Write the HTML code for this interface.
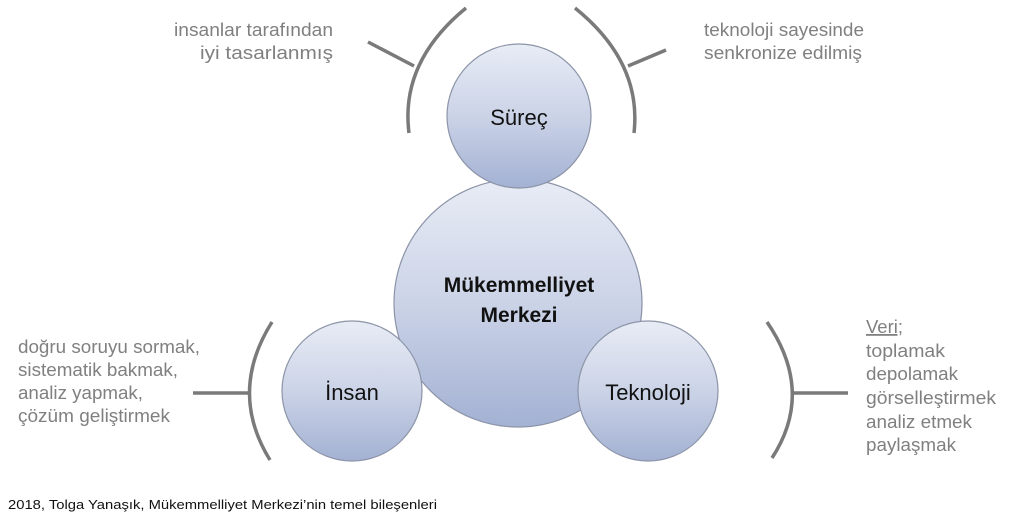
<!DOCTYPE html>
<html><head><meta charset="utf-8"><style>
body{margin:0;background:#fff;}
svg{display:block}
text{font-family:"Liberation Sans",sans-serif;}
</style></head><body>
<svg width="1024" height="514" viewBox="0 0 1024 514">
<defs>
<linearGradient id="g" x1="0" y1="0" x2="0" y2="1">
<stop offset="0" stop-color="#e8ecf5"/>
<stop offset="0.5" stop-color="#cbd3e7"/>
<stop offset="1" stop-color="#a3b1d3"/>
</linearGradient>
</defs>
<g fill="none" stroke="#7a7a7a" stroke-width="3.5">
<path d="M466,8 Q400,62 409,133"/>
<path d="M368,42 L414,66"/>
<path d="M575,8 Q642,62 634,133"/>
<path d="M628,66 L666,50"/>
<path d="M272,322 Q228,392 270,460"/>
<path d="M193,393 L250,393"/>
<path d="M767,322 Q815,392 772,458"/>
<path d="M793,393 L848,393"/>
</g>
<g stroke="#8c94a8" stroke-width="1.2" fill="url(#g)">
<circle cx="518" cy="303" r="124"/>
<circle cx="519" cy="116" r="72"/>
<circle cx="352" cy="391" r="70"/>
<circle cx="648" cy="391" r="70"/>
</g>
<g fill="#111" font-size="22" text-anchor="middle">
<text x="519" y="125">Süreç</text>
<text x="352" y="400">İnsan</text>
<text x="648" y="400">Teknoloji</text>
<text x="519" y="292" font-weight="bold" font-size="21">Mükemmelliyet</text>
<text x="519" y="322" font-weight="bold" font-size="21">Merkezi</text>
</g>
<g fill="#808080" font-size="18">
<text x="174" y="36" textLength="159" lengthAdjust="spacingAndGlyphs">insanlar tarafından</text>
<text x="200" y="59" textLength="133" lengthAdjust="spacingAndGlyphs">iyi tasarlanmış</text>
<text x="704" y="36" textLength="160" lengthAdjust="spacingAndGlyphs">teknoloji sayesinde</text>
<text x="704" y="59" textLength="158" lengthAdjust="spacingAndGlyphs">senkronize edilmiş</text>
<text x="18" y="353" textLength="182" lengthAdjust="spacingAndGlyphs">doğru soruyu sormak,</text>
<text x="18" y="376" textLength="160" lengthAdjust="spacingAndGlyphs">sistematik bakmak,</text>
<text x="18" y="399" textLength="125" lengthAdjust="spacingAndGlyphs">analiz yapmak,</text>
<text x="18" y="422" textLength="152" lengthAdjust="spacingAndGlyphs">çözüm geliştirmek</text>
<text x="866" y="333" textLength="37" lengthAdjust="spacingAndGlyphs" text-decoration="underline">Veri;</text>
<text x="866" y="357" textLength="79" lengthAdjust="spacingAndGlyphs">toplamak</text>
<text x="866" y="380" textLength="92" lengthAdjust="spacingAndGlyphs">depolamak</text>
<text x="866" y="404" textLength="130" lengthAdjust="spacingAndGlyphs">görselleştirmek</text>
<text x="866" y="428" textLength="106" lengthAdjust="spacingAndGlyphs">analiz etmek</text>
<text x="866" y="451" textLength="90" lengthAdjust="spacingAndGlyphs">paylaşmak</text>
</g>
<text x="8" y="509" font-size="13" fill="#111" textLength="429" lengthAdjust="spacingAndGlyphs">2018, Tolga Yanaşık, Mükemmelliyet Merkezi’nin temel bileşenleri</text>
</svg>
</body></html>
